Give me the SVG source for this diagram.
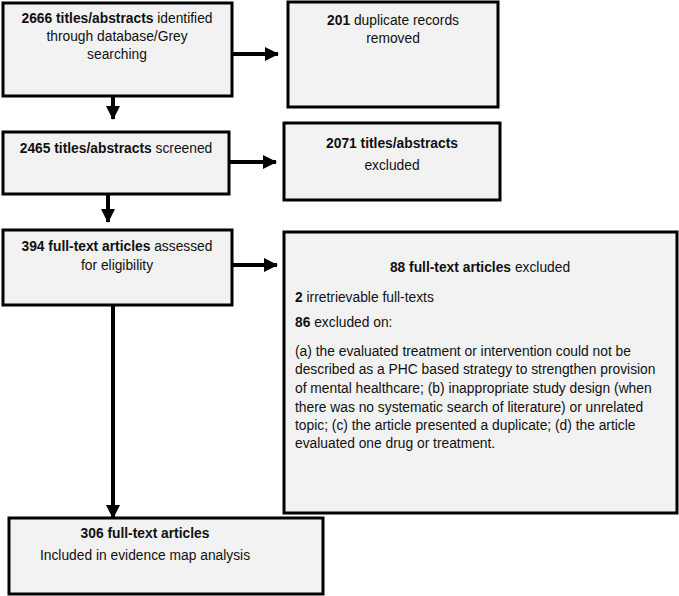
<svg xmlns="http://www.w3.org/2000/svg" width="679" height="596" viewBox="0 0 679 596">
<defs>
<style>
.box{fill:#f2f2f2;stroke:#000;stroke-width:3}
text{font-family:"Liberation Sans",Arial,sans-serif;font-size:13.8px;fill:#111}
.c{text-anchor:middle}
.b{font-weight:bold}
.conn{stroke:#000;stroke-width:4;fill:none}
</style>
<marker id="ah" markerUnits="userSpaceOnUse" markerWidth="14" markerHeight="14" viewBox="0 0 14 14" refX="13" refY="7" orient="auto">
<path d="M0,0 L14,7 L0,14 Z" fill="#000"/>
</marker>
</defs>
<g id="connectors">
<line class="conn" x1="232" y1="54" x2="278" y2="54" marker-end="url(#ah)"/>
<line class="conn" x1="113" y1="96" x2="113" y2="119" marker-end="url(#ah)"/>
<line class="conn" x1="229" y1="162" x2="276" y2="162" marker-end="url(#ah)"/>
<line class="conn" x1="108" y1="194" x2="108" y2="222" marker-end="url(#ah)"/>
<line class="conn" x1="232" y1="265" x2="277" y2="265" marker-end="url(#ah)"/>
<line class="conn" x1="113" y1="305" x2="113" y2="518" marker-end="url(#ah)"/>
</g>
<g id="n1">
<rect class="box" x="3" y="3" width="229" height="93"/>
<text class="c" x="117" y="23"><tspan class="b">2666 titles/abstracts</tspan> identified</text>
<text class="c" x="117" y="41">through database/Grey</text>
<text class="c" x="117" y="59">searching</text>
</g>
<g id="n2">
<rect class="box" x="288" y="2" width="210" height="105"/>
<text class="c" x="393" y="25"><tspan class="b">201</tspan> duplicate records</text>
<text class="c" x="393" y="43">removed</text>
</g>
<g id="n3">
<rect class="box" x="3" y="132" width="226" height="62"/>
<text class="c" x="116" y="153"><tspan class="b">2465 titles/abstracts</tspan> screened</text>
</g>
<g id="n4">
<rect class="box" x="284" y="123" width="216" height="77"/>
<text class="c" x="392" y="148" font-weight="bold">2071 titles/abstracts</text>
<text class="c" x="392" y="170">excluded</text>
</g>
<g id="n5">
<rect class="box" x="3" y="230" width="229" height="75"/>
<text class="c" x="117" y="251"><tspan class="b">394 full-text articles</tspan> assessed</text>
<text class="c" x="117" y="270">for eligibility</text>
</g>
<g id="n6">
<rect class="box" x="284" y="232" width="393" height="281"/>
<text class="c" x="480" y="272"><tspan class="b">88 full-text articles</tspan> excluded</text>
<text x="295" y="302"><tspan class="b">2</tspan> irretrievable full-texts</text>
<text x="295" y="327"><tspan class="b">86</tspan> excluded on:</text>
<text x="295" y="356">(a) the evaluated treatment or intervention could not be</text>
<text x="295" y="374">described as a PHC based strategy to strengthen provision</text>
<text x="295" y="393">of mental healthcare; (b) inappropriate study design (when</text>
<text x="295" y="412">there was no systematic search of literature) or unrelated</text>
<text x="295" y="430">topic; (c) the article presented a duplicate; (d) the article</text>
<text x="295" y="448">evaluated one drug or treatment.</text>
</g>
<g id="n7">
<rect class="box" x="9" y="518" width="314" height="76"/>
<text class="c" x="145" y="538" font-weight="bold">306 full-text articles</text>
<text class="c" x="145" y="560">Included in evidence map analysis</text>
</g>
</svg>
